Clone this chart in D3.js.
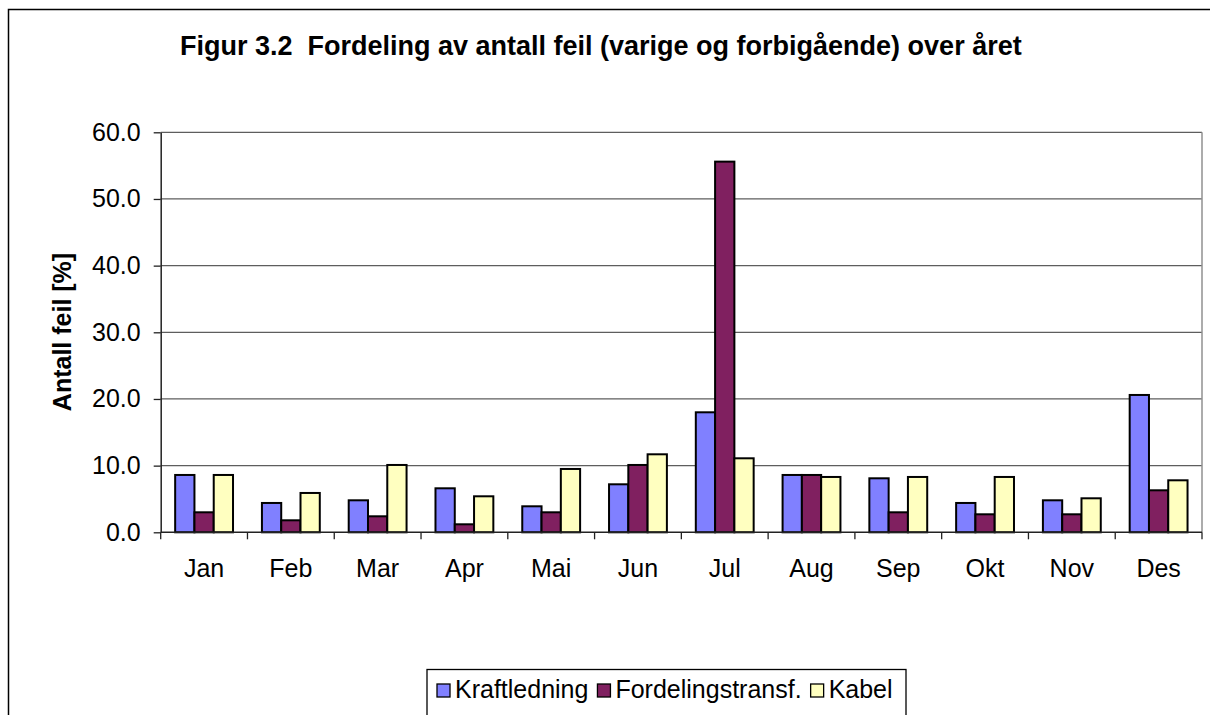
<!DOCTYPE html>
<html>
<head>
<meta charset="utf-8">
<script src="https://cdn.jsdelivr.net/npm/d3@7"></script>
<style>
  body { margin: 0; background: #fff; }
  svg { display: block; font-family: "Liberation Sans", Arial, sans-serif; }
</style>
</head>
<body>
<div id="chart"></div>
<script>
// Chart data
const months = ["Jan", "Feb", "Mar", "Apr", "Mai", "Jun", "Jul", "Aug", "Sep", "Okt", "Nov", "Des"];
const seriesNames = ["Kraftledning", "Fordelingstransf.", "Kabel"];
const kraftledning = [8.6, 4.4, 4.8, 6.6, 3.9, 7.2, 18.0, 8.6, 8.1, 4.4, 4.8, 20.6];
const fordelingstransf = [3.0, 1.8, 2.4, 1.2, 3.0, 10.1, 55.6, 8.6, 3.0, 2.7, 2.7, 6.3];
const kabel = [8.6, 5.9, 10.1, 5.4, 9.5, 11.7, 11.1, 8.3, 8.3, 8.3, 5.1, 7.8];
const yTicks = [0, 10, 20, 30, 40, 50, 60];
const colors = ["#8080FF", "#802060", "#FFFFC0"];

const width = 1210;
const height = 715;
const margin = { top: 132.3, right: 8, bottom: 182.7, left: 160.7 };

const svg = d3.select("#chart")
    .append("svg")
    .attr("width", width)
    .attr("height", height);

// Outer chart frame (runs off the right and bottom edge)
svg.append("rect")
    .attr("x", 8.5)
    .attr("y", 9.5)
    .attr("width", 1300)
    .attr("height", 800)
    .attr("fill", "none")
    .attr("stroke", "#000")
    .attr("stroke-width", 1.5);

// Title (keeps the double space after "3.2")
svg.append("text")
    .attr("x", 180)
    .attr("y", 55)
    .attr("font-size", 27)
    .attr("font-weight", "bold")
    .style("white-space", "pre")
    .text("Figur 3.2  Fordeling av antall feil (varige og forbigående) over året");

// Scales
const x0 = d3.scaleBand()
    .domain(months)
    .range([margin.left, width - margin.right])
    .paddingInner(0);

const x1 = d3.scaleBand()
    .domain(seriesNames)
    .range([0, x0.bandwidth()])
    .paddingInner(0)
    .paddingOuter(0.75);

const y = d3.scaleLinear()
    .domain([0, 60])
    .range([height - margin.bottom, margin.top]);

// Gridlines
svg.append("g")
    .selectAll("line")
    .data(yTicks.filter(d => d > 0))
    .join("line")
    .attr("x1", margin.left)
    .attr("x2", width - margin.right)
    .attr("y1", d => y(d))
    .attr("y2", d => y(d))
    .attr("stroke", "#5e5e5e")
    .attr("stroke-width", 1.3);

// Right border of plot area
svg.append("line")
    .attr("x1", width - margin.right)
    .attr("x2", width - margin.right)
    .attr("y1", y(60))
    .attr("y2", y(0))
    .attr("stroke", "#909090")
    .attr("stroke-width", 1.5);

// Bars
const table = months.map((m, i) => ({
    month: m,
    values: [kraftledning[i], fordelingstransf[i], kabel[i]]
}));

svg.append("g")
    .selectAll("g")
    .data(table)
    .join("g")
    .attr("transform", d => `translate(${x0(d.month)},0)`)
    .selectAll("rect")
    .data(d => d.values.map((v, j) => ({ name: seriesNames[j], value: v, color: colors[j] })))
    .join("rect")
    .attr("x", d => x1(d.name))
    .attr("y", d => y(d.value))
    .attr("width", x1.bandwidth())
    .attr("height", d => y(0) - y(d.value))
    .attr("fill", d => d.color)
    .attr("stroke", "#000")
    .attr("stroke-width", 2);

// Y axis
const yAxis = svg.append("g")
    .attr("transform", `translate(${margin.left},0)`)
    .call(d3.axisLeft(y).tickValues(yTicks).tickFormat(d3.format(".1f")).tickSize(7).tickPadding(13).tickSizeOuter(0));
yAxis.select(".domain").attr("stroke", "#222").attr("stroke-width", 1.5);
yAxis.selectAll(".tick line").attr("stroke", "#222").attr("stroke-width", 1.3);
yAxis.selectAll("text").attr("font-size", 25).attr("fill", "#000").attr("font-family", "Liberation Sans, Arial, sans-serif");

// X axis: ticks between categories, labels centred
const xAxis = svg.append("g")
    .attr("transform", `translate(0,${y(0)})`);
xAxis.append("line")
    .attr("x1", margin.left)
    .attr("x2", width - margin.right)
    .attr("stroke", "#222")
    .attr("stroke-width", 1.5);
xAxis.selectAll(".xtick")
    .data(months.map(m => x0(m)).concat([x0.range()[1]]))
    .join("line")
    .attr("class", "xtick")
    .attr("x1", d => d)
    .attr("x2", d => d)
    .attr("y1", 0)
    .attr("y2", 7)
    .attr("stroke", "#222")
    .attr("stroke-width", 1.3);
xAxis.selectAll(".xlabel")
    .data(months)
    .join("text")
    .attr("class", "xlabel")
    .attr("x", d => x0(d) + x0.bandwidth() / 2)
    .attr("y", 45)
    .attr("text-anchor", "middle")
    .attr("font-size", 25)
    .text(d => d);

// Y axis title
svg.append("text")
    .attr("transform", `translate(71,332) rotate(-90)`)
    .attr("text-anchor", "middle")
    .attr("font-size", 25)
    .attr("font-weight", "bold")
    .text("Antall feil [%]");

// Legend
const legend = svg.append("g");
legend.append("rect")
    .attr("x", 427)
    .attr("y", 669.5)
    .attr("width", 479)
    .attr("height", 80)
    .attr("fill", "#fff")
    .attr("stroke", "#000")
    .attr("stroke-width", 1.3);

let lx = 437;
seriesNames.forEach((name, i) => {
    legend.append("rect")
        .attr("x", lx)
        .attr("y", 684)
        .attr("width", 13)
        .attr("height", 13)
        .attr("fill", colors[i])
        .attr("stroke", "#000")
        .attr("stroke-width", 1.3);
    const t = legend.append("text")
        .attr("x", lx + 18)
        .attr("y", 698)
        .attr("font-size", 25)
        .text(name);
    lx += 18 + t.node().getComputedTextLength() + 9;
});
</script>
</body>
</html>
